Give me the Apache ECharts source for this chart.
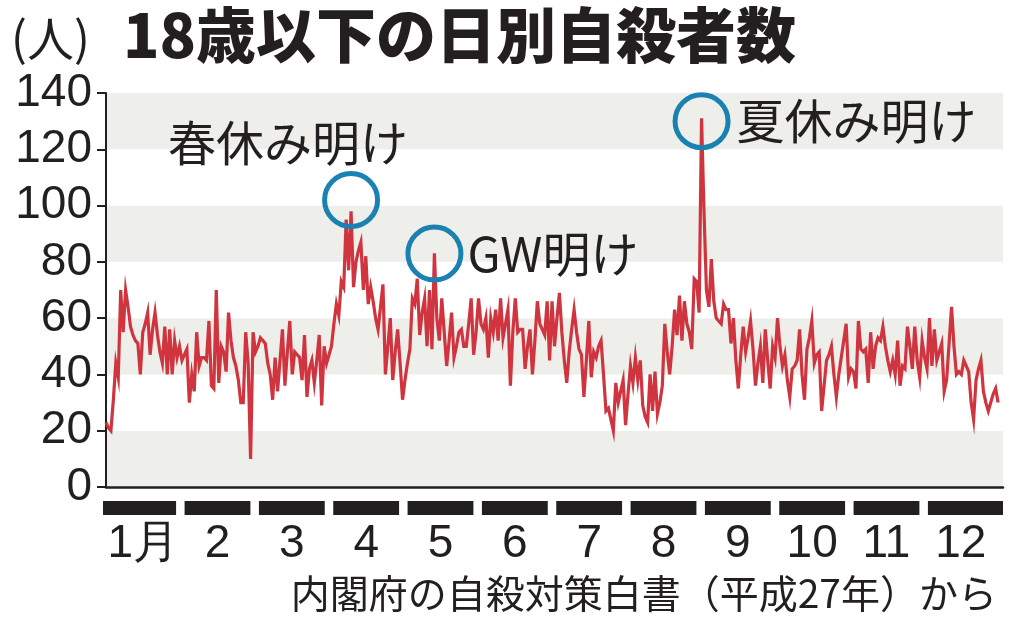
<!DOCTYPE html>
<html>
<head>
<meta charset="utf-8">
<script src="https://cdn.jsdelivr.net/npm/echarts@6/dist/echarts.min.js"></script>
<style>
  html, body { margin: 0; padding: 0; background: #fff; }
  #chart { width: 1024px; height: 622px; }
</style>
</head>
<body>
<div id="chart"></div>
<script>
// 日別の人数（月ごと）
var jan = [23,21,20,31,44,39,70,55,70,64, 57,54,52,51,40,55,58,62,47,56, 62,54,48,44,57,40,56,40,52,46, 50];
var feb = [45,47,49,30,40,34,55,43,46,46, 45,59,36,35,70,37,50,48,41,62, 52,46,43,38,30,30,55,44];
var mar = [10,55,48,50,53,52,51,44,40,31, 46,34,45,56,36,48,59,40,48,47, 46,38,54,32,42,45,37,45,54,29, 50];
var apr = [44,47,50,58,65,61,73,71,95,77, 98,71,80,84,87,70,82,65,71,66, 60,56,64,72,40,50,60,38,48,56];
var may = [44,31,38,44,49,67,65,74,54,62, 67,50,70,49,83,60,52,67,55,43, 52,62,46,50,55,56,50,50,58,67, 47];
var jun = [55,67,58,56,60,46,60,55,63,52, 67,53,58,63,36,55,67,55,56,56, 42,50,56,40,52,66,58,56,54,66];
var jul = [45,66,50,60,69,55,45,37,48,56, 63,55,49,47,32,45,59,39,48,46, 50,52,40,27,28,24,20,37,30,34, 38];
var aug = [22,33,43,37,46,38,45,29,25,23, 40,27,41,26,30,36,58,48,40,50, 63,54,68,52,66,58,55,49,74,73, 62];
var sep = [131,98,70,64,81,66,60,59,58,65, 63,63,51,60,45,35,47,57,48,53, 59,49,36,44,50,37,56,45,35,50];
var oct = [46,60,50,43,47,38,32,42,43,45, 56,40,31,49,53,59,44,47,48,27, 36,45,47,50,40,32,40,46,52,58, 39];
var nov = [42,41,35,59,49,48,49,37,55,42, 50,53,52,57,50,45,41,45,40,52, 36,43,42,57,50,42,57,45,39,52];
var dec = [46,42,60,43,56,45,48,51,34,38, 51,64,50,40,41,40,45,43,41,30, 24,38,42,45,34,30,27,30,33,35, 30];

var monthLabels = ['1月','2','3','4','5','6','7','8','9','10','11','12'];
var yTicks = [0, 20, 40, 60, 80, 100, 120, 140];

// 注記（丸の位置：日・人数）
var noteDays = [100, 134, 243];
var noteValues = [102, 83, 130];
var noteTexts = ['春休み明け', 'GW明け', '夏休み明け'];

var daily = [].concat(jan, feb, mar, apr, may, jun, jul, aug, sep, oct, nov, dec);

var ink = '#231f20';
var jpFont = '"Noto Sans CJK JP", sans-serif';
var numFont = '"Liberation Sans", Arial, sans-serif';

var chart = echarts.init(document.getElementById('chart'));

chart.setOption({
  backgroundColor: '#fff',
  animation: false,
  title: [
    {
      text: '18歳以下の日別自殺者数',
      left: 118, top: 0,
      textStyle: { fontFamily: jpFont, fontSize: 60, fontWeight: 900, color: ink }
    },
    {
      text: '(人)',
      left: 6, top: 10,
      textStyle: { fontFamily: jpFont, fontSize: 47, fontWeight: 'normal', color: ink }
    },
    {
      text: '内閣府の自殺対策白書（平成27年）から',
      right: 22, top: 569,
      textStyle: { fontFamily: jpFont, fontSize: 39, fontWeight: 'normal', color: ink }
    }
  ],
  grid: [
    { left: 106, right: 21, top: 93, bottom: 135 },
    { left: 106, right: 26, top: 501, height: 14 }
  ],
  xAxis: [
    {
      type: 'value', gridIndex: 0,
      min: 0, max: daily.length + 1,
      axisLine: { show: true, lineStyle: { color: ink, width: 2.5 } },
      axisTick: { show: false },
      axisLabel: { show: false },
      splitLine: { show: false }
    },
    {
      type: 'category', gridIndex: 1,
      data: monthLabels,
      axisLine: { show: false },
      axisTick: { show: false },
      axisLabel: {
        interval: 0,
        fontFamily: numFont, fontSize: 46, lineHeight: 46,
        color: ink, margin: 6
      }
    }
  ],
  yAxis: [
    {
      type: 'value', gridIndex: 0,
      min: yTicks[0], max: yTicks[yTicks.length - 1], interval: 20,
      axisLine: { show: true, lineStyle: { color: ink, width: 2 } },
      axisTick: { show: true, length: 9, lineStyle: { color: ink, width: 2 } },
      axisLabel: { fontFamily: numFont, fontSize: 46, color: ink, margin: 14 },
      splitLine: { show: false },
      splitArea: { show: true, areaStyle: { color: ['#eeeeea', '#ffffff'] } }
    },
    {
      type: 'value', gridIndex: 1, min: 0, max: 1, show: false
    }
  ],
  series: [
    {
      name: '自殺者数',
      type: 'line',
      xAxisIndex: 0, yAxisIndex: 0,
      data: daily.map(function (v, i) { return [i, v]; }),
      showSymbol: false,
      lineStyle: { color: '#d0343f', width: 3.2, join: 'miter' },
      z: 3
    },
    {
      type: 'scatter',
      xAxisIndex: 0, yAxisIndex: 0,
      symbol: 'circle',
      symbolSize: 53,
      itemStyle: { color: 'rgba(0,0,0,0)', borderColor: '#1a82b2', borderWidth: 5, opacity: 1 },
      label: {
        show: true,
        fontFamily: jpFont, fontSize: 48, color: ink,
        formatter: function (p) { return noteTexts[p.dataIndex]; }
      },
      data: noteDays.map(function (d, i) {
        var item = { value: [d, noteValues[i]] };
        if (i === 0) {
          item.label = { position: 'top', distance: 4, offset: [-63, 0] };
        } else {
          item.label = { position: 'right', distance: i === 1 ? 4 : 6 };
        }
        return item;
      }),
      z: 4
    },
    {
      type: 'custom',
      xAxisIndex: 1, yAxisIndex: 1,
      data: monthLabels.map(function (m, i) { return [i, 1]; }),
      renderItem: function (params, api) {
        var i = params.dataIndex;
        var cs = params.coordSys;
        var c = api.coord([i, 0]);
        var w = api.size([1, 0])[0];
        var gap = 8.5;
        var x0 = c[0] - w / 2 + gap / 2;
        var x1 = c[0] + w / 2 - gap / 2;
        if (i === 0) x0 = cs.x - 3;
        if (i === monthLabels.length - 1) x1 = cs.x + cs.width + 5;
        return {
          type: 'rect',
          shape: { x: x0, y: cs.y, width: x1 - x0, height: cs.height },
          style: { fill: ink }
        };
      }
    }
  ]
});
</script>
</body>
</html>
